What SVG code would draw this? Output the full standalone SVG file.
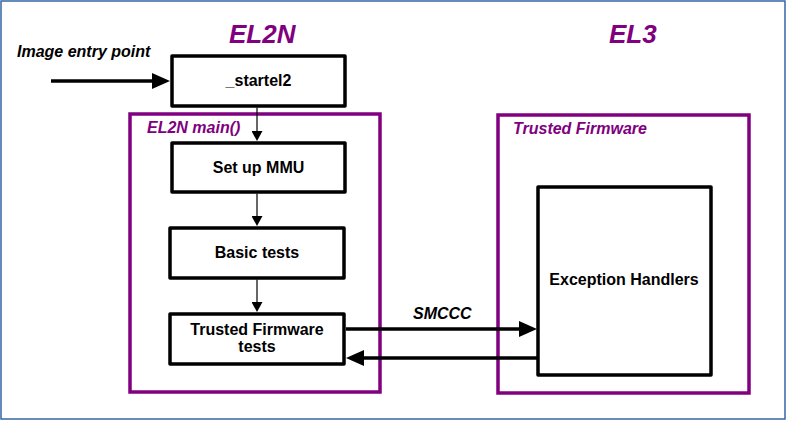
<svg xmlns="http://www.w3.org/2000/svg" width="787" height="421" viewBox="0 0 787 421">
<defs>
<style>
.t{font-family:"Liberation Sans",Arial,sans-serif;font-weight:bold;font-size:16px;fill:#000}
.i{font-style:italic}
.p{fill:#800080}
.box{fill:#fff;stroke:#000;stroke-width:3.5;stroke-linejoin:round}
.grp{fill:none;stroke:#800080;stroke-width:3.5}
.thin{stroke:#000;stroke-width:1.2;fill:none}
.thick{stroke:#000;stroke-width:3.5;fill:none}
</style>
<marker id="big" markerUnits="userSpaceOnUse" viewBox="0 0 18 16" refX="8" refY="8" markerWidth="18" markerHeight="16" orient="auto">
<path d="M0,0 L18,8 L0,16 z" fill="#000"/>
</marker>
<marker id="small" markerUnits="userSpaceOnUse" viewBox="0 0 10 11" refX="5" refY="5.5" markerWidth="10" markerHeight="11" orient="auto">
<path d="M0,0 L10,5.5 L0,11 z" fill="#000"/>
</marker>
</defs>
<rect x="1" y="1" width="784" height="418" fill="#fff" stroke="#3465a4" stroke-width="1.5"/>
<text class="t i p" x="229" y="43" style="font-size:26px">EL2N</text>
<text class="t i p" x="609" y="43" style="font-size:26px">EL3</text>
<text class="t i" x="17" y="57">Image entry point</text>
<g id="el2n-main">
<rect class="grp" x="130" y="114" width="250" height="278"/>
<text class="t i p" x="147" y="133">EL2N main()</text>
</g>
<g id="trusted-firmware">
<rect class="grp" x="498" y="115" width="251" height="278"/>
<text class="t i p" x="513" y="134">Trusted Firmware</text>
</g>
<g id="startel2">
<rect class="box" x="172" y="56" width="173" height="50"/>
<text class="t" x="258.5" y="86" text-anchor="middle">_startel2</text>
</g>
<g id="setup-mmu">
<rect class="box" x="172" y="143" width="173" height="49"/>
<text class="t" x="258.5" y="173" text-anchor="middle">Set up MMU</text>
</g>
<g id="basic-tests">
<rect class="box" x="170" y="228" width="174" height="50"/>
<text class="t" x="257" y="258" text-anchor="middle">Basic tests</text>
</g>
<g id="tf-tests">
<rect class="box" x="170" y="314" width="174" height="50"/>
<text class="t" x="257" y="335" text-anchor="middle">Trusted Firmware</text>
<text class="t" x="257" y="352" text-anchor="middle">tests</text>
</g>
<g id="exception-handlers">
<rect class="box" x="538" y="187" width="173" height="188"/>
<text class="t" x="624" y="285" text-anchor="middle">Exception Handlers</text>
</g>
<g id="connectors">
<line class="thick" x1="51" y1="81" x2="160" y2="81" marker-end="url(#big)"/>
<line class="thin" x1="257" y1="107.5" x2="257" y2="136" marker-end="url(#small)"/>
<line class="thin" x1="257" y1="193.5" x2="257" y2="221" marker-end="url(#small)"/>
<line class="thin" x1="257" y1="279.5" x2="257" y2="307" marker-end="url(#small)"/>
<line class="thick" x1="346" y1="329" x2="527" y2="329" marker-end="url(#big)"/>
<text class="t i" x="413" y="319">SMCCC</text>
<line class="thick" x1="537" y1="358" x2="356" y2="358" marker-end="url(#big)"/>
</g>
</svg>
